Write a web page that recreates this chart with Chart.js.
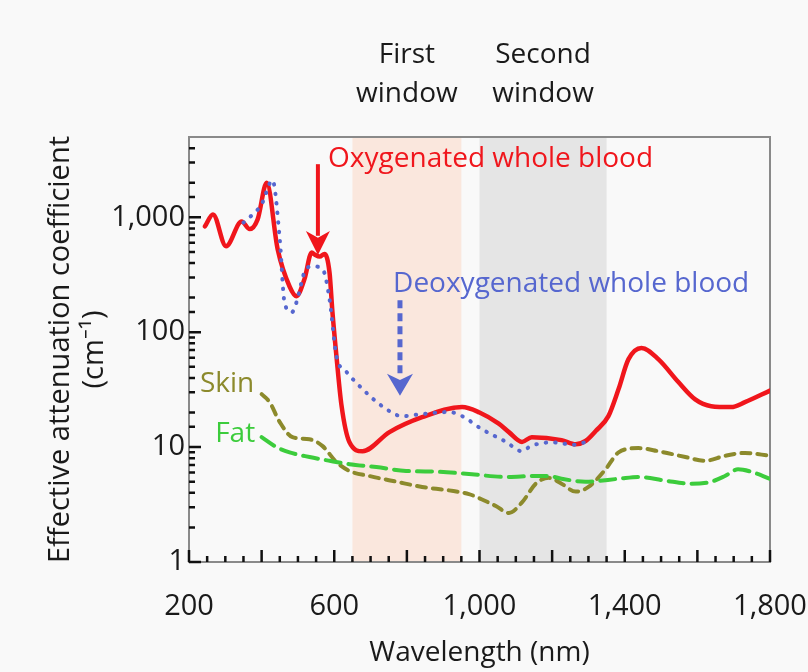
<!DOCTYPE html>
<html>
<head>
<meta charset="utf-8">
<script src="https://cdn.jsdelivr.net/npm/chart.js"></script>
<style>
  html, body { margin: 0; padding: 0; background: #f9f9f9; }
</style>
</head>
<body>
<canvas id="attChart" width="808" height="672"></canvas>
<script>
// values (wavelength in nm, coefficient in cm^-1)
const oxyNm  = [244, 266, 302, 345, 367, 389, 414, 444, 477, 496, 518, 538, 546, 560, 573, 587, 595, 606, 620, 642, 678, 752, 842, 952, 1000, 1053, 1081, 1117, 1144, 1226, 1265, 1292, 1320, 1355, 1383, 1410, 1446, 1493, 1547, 1594, 1638, 1693, 1731, 1800];
const oxyVal = [835, 1060, 560, 920, 790, 960, 2000, 530, 250, 206, 290, 495, 475, 455, 480, 330, 150, 62, 23, 11, 9.2, 13.5, 18.2, 22.3, 20, 16, 13.5, 11.1, 12.2, 11.5, 10.6, 11.3, 13.8, 18.6, 32, 58, 73, 58, 37, 26, 22.7, 22.3, 24.6, 31];

const deoxyNm  = [350, 367, 400, 430, 450, 463, 483, 496, 518, 540, 568, 587, 606, 634, 678, 732, 787, 842, 916, 952, 1007, 1073, 1117, 1141, 1200, 1260, 1290];
const deoxyVal = [900, 1000, 1300, 2100, 640, 182, 149, 182, 333, 375, 353, 194, 62, 45, 32, 22.7, 18.6, 19.4, 20.2, 18.6, 14.3, 11.1, 9.2, 10.2, 11, 10.5, 11];

const skinNm  = [400, 422, 450, 485, 532, 568, 606, 642, 697, 771, 842, 916, 971, 1007, 1045, 1081, 1117, 1155, 1191, 1226, 1265, 1300, 1347, 1383, 1438, 1493, 1567, 1621, 1676, 1731, 1800];
const skinVal = [28.9, 24.6, 16.5, 12.2, 11.7, 10.2, 7.4, 6.2, 5.6, 5.0, 4.5, 4.2, 3.9, 3.5, 3.07, 2.67, 3.3, 4.8, 5.4, 4.8, 4.1, 4.5, 6.4, 9.0, 9.8, 9.2, 8.2, 7.6, 8.4, 8.9, 8.4];

const fatNm  = [400, 441, 477, 532, 587, 642, 716, 798, 889, 979, 1073, 1155, 1191, 1226, 1292, 1383, 1438, 1512, 1583, 1638, 1676, 1712, 1748, 1800];
const fatVal = [12.2, 10, 9.0, 8.2, 7.6, 7.1, 6.7, 6.2, 6.1, 5.8, 5.5, 5.6, 5.6, 5.3, 5.0, 5.3, 5.5, 5.1, 4.8, 5.0, 5.6, 6.4, 6.1, 5.3];

// optical windows
const windowNames = [['First', 'window'], ['Second', 'window']];
const windowFrom  = [650, 1000];
const windowTo    = [950, 1350];

// axis ticks
const xMajorStep = 200;
const xMinorStep = 50;
const xLabelEvery = 400;
const yDecades = [1, 10, 100, 1000];

const RED = '#f0161c';
const BLUE = '#5667cf';
const OLIVE = '#8c8a2c';
const GREEN = '#3ccc3c';
const FONT = '"Open Sans", sans-serif';

function toPoints(xs, ys) {
  return xs.map((x, i) => ({ x: x, y: ys[i] }));
}

function arrow(ctx, x, yTop, yTip, color, width, headW, headH, dash) {
  ctx.save();
  ctx.strokeStyle = color;
  ctx.fillStyle = color;
  ctx.lineWidth = width;
  ctx.setLineDash(dash || []);
  ctx.beginPath();
  ctx.moveTo(x, yTop);
  ctx.lineTo(x, yTip - headH * 0.8);
  ctx.stroke();
  ctx.setLineDash([]);
  ctx.beginPath();
  ctx.moveTo(x, yTip);
  ctx.lineTo(x - headW / 2, yTip - headH);
  ctx.lineTo(x, yTip - headH * 0.72);
  ctx.lineTo(x + headW / 2, yTip - headH);
  ctx.closePath();
  ctx.fill();
  ctx.restore();
}

const framePlugin = {
  id: 'frame',
  beforeDatasetsDraw(chart) {
    const { ctx, chartArea: a, scales: { x, y } } = chart;
    ctx.save();
    // window bands
    const bandColors = ['rgba(250,226,214,0.8)', 'rgba(224,224,224,0.8)'];
    windowFrom.forEach((from, i) => {
      const l = x.getPixelForValue(from);
      const r = x.getPixelForValue(windowTo[i]);
      ctx.fillStyle = bandColors[i];
      ctx.fillRect(l, a.top, r - l, a.bottom - a.top);
    });
    // box
    ctx.strokeStyle = '#8a8a8a';
    ctx.lineWidth = 2;
    ctx.strokeRect(a.left, a.top, a.right - a.left, a.bottom - a.top);
    // inward ticks
    ctx.strokeStyle = '#111';
    ctx.lineWidth = 2.5;
    ctx.beginPath();
    x.ticks.forEach(t => {
      const px = x.getPixelForValue(t.value);
      const len = t.value % xMajorStep === 0 ? 12 : 6;
      ctx.moveTo(px, a.bottom);
      ctx.lineTo(px, a.bottom - len);
    });
    y.ticks.forEach(t => {
      const py = y.getPixelForValue(t.value);
      if (py < a.top + 2) return;
      const isDecade = Math.abs(Math.log10(t.value) - Math.round(Math.log10(t.value))) < 1e-9;
      const len = isDecade ? 12 : 6;
      ctx.moveTo(a.left, py);
      ctx.lineTo(a.left + len, py);
    });
    ctx.stroke();
    ctx.restore();
  },
  afterDatasetsDraw(chart) {
    const { ctx, chartArea: a, scales: { x, y } } = chart;
    ctx.save();
    ctx.textBaseline = 'middle';
    ctx.font = '28px ' + FONT;

    // window captions above the plot
    ctx.fillStyle = '#1a1a1a';
    ctx.textAlign = 'center';
    windowNames.forEach((lines, i) => {
      const cx = x.getPixelForValue((windowFrom[i] + windowTo[i]) / 2);
      ctx.fillText(lines[0], cx, a.top - 82);
      ctx.fillText(lines[1], cx, a.top - 43);
    });

    ctx.textAlign = 'left';
    ctx.fillStyle = RED;
    ctx.fillText('Oxygenated whole blood', x.getPixelForValue(583), y.getPixelForValue(3200));
    arrow(ctx, x.getPixelForValue(555), y.getPixelForValue(2900), y.getPixelForValue(470), RED, 4, 24, 24);

    ctx.fillStyle = BLUE;
    ctx.fillText('Deoxygenated whole blood', x.getPixelForValue(762), y.getPixelForValue(261));
    arrow(ctx, x.getPixelForValue(781), y.getPixelForValue(190), y.getPixelForValue(28), BLUE, 5, 26, 22, [8, 5]);

    ctx.fillStyle = OLIVE;
    ctx.fillText('Skin', x.getPixelForValue(230), y.getPixelForValue(35.3));
    ctx.fillStyle = GREEN;
    ctx.fillText('Fat', x.getPixelForValue(272), y.getPixelForValue(13));
    ctx.restore();
  }
};

const lineBase = {
  showLine: true,
  pointRadius: 0,
  fill: false,
  cubicInterpolationMode: 'monotone',
  borderCapStyle: 'round'
};

new Chart(document.getElementById('attChart'), {
  type: 'scatter',
  data: {
    datasets: [
      Object.assign({}, lineBase, {
        label: 'Fat',
        data: toPoints(fatNm, fatVal),
        borderColor: GREEN,
        borderWidth: 4,
        borderDash: [15, 8]
      }),
      Object.assign({}, lineBase, {
        label: 'Skin',
        data: toPoints(skinNm, skinVal),
        borderColor: OLIVE,
        borderWidth: 4,
        borderDash: [9, 7]
      }),
      Object.assign({}, lineBase, {
        label: 'Deoxygenated whole blood',
        data: toPoints(deoxyNm, deoxyVal),
        borderColor: BLUE,
        borderWidth: 4,
        borderDash: [0.5, 9]
      }),
      Object.assign({}, lineBase, {
        label: 'Oxygenated whole blood',
        data: toPoints(oxyNm, oxyVal),
        borderColor: RED,
        borderWidth: 4.5,
        borderJoinStyle: 'round'
      })
    ]
  },
  options: {
    responsive: false,
    animation: false,
    layout: { padding: { top: 137, right: 38, left: 0, bottom: 0 } },
    plugins: { legend: { display: false }, tooltip: { enabled: false } },
    scales: {
      x: {
        type: 'linear',
        min: 200,
        max: 1800,
        grid: { display: false, drawTicks: false },
        border: { display: false },
        ticks: {
          stepSize: xMinorStep,
          autoSkip: false,
          maxTicksLimit: 100,
          maxRotation: 0,
          padding: 27,
          color: '#1a1a1a',
          font: { family: FONT, size: 29 },
          callback: v => ((v - 200) % xLabelEvery === 0 ? v.toLocaleString('en-US') : '')
        },
        title: {
          display: true,
          text: 'Wavelength (nm)',
          color: '#1a1a1a',
          font: { family: FONT, size: 28 },
          padding: { top: 0, bottom: 2 }
        },
        afterFit: s => { s.height = 110; s.paddingLeft = 0; s.paddingRight = 0; }
      },
      y: {
        type: 'logarithmic',
        min: 1,
        max: 5000,
        grid: { display: false, drawTicks: false },
        border: { display: false },
        ticks: {
          autoSkip: false,
          padding: 4,
          color: '#1a1a1a',
          font: { family: FONT, size: 29 },
          callback: v => (yDecades.includes(v) ? v.toLocaleString('en-US') : '')
        },
        title: {
          display: true,
          text: ['Effective attenuation coefficient', '(cm\u207B\u00B9)'],
          color: '#1a1a1a',
          font: { family: FONT, size: 29 },
          padding: { top: 43, bottom: 0 }
        },
        afterFit: s => { s.width = 189; s.paddingTop = 0; s.paddingBottom = 0; }
      }
    }
  },
  plugins: [framePlugin]
});
</script>
</body>
</html>
